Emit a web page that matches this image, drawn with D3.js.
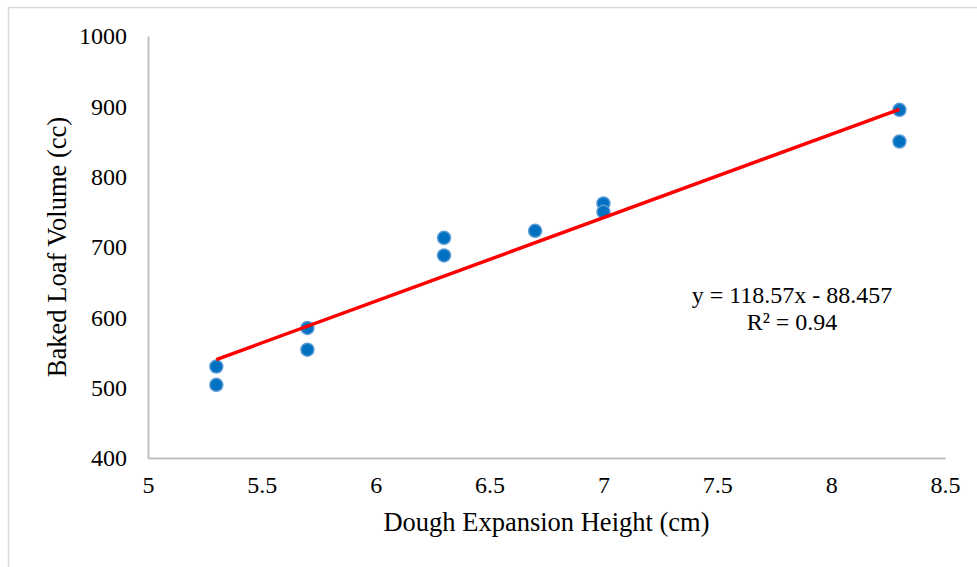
<!DOCTYPE html>
<html>
<head>
<meta charset="utf-8">
<script src="https://cdn.jsdelivr.net/npm/d3@7"></script>
<style>
  body { margin: 0; background: #fff; }
  svg { font-family: "Liberation Serif", "Times New Roman", serif; }
</style>
</head>
<body>
<div id="chart"></div>
<script>
const width = 977
const height = 567

// data
const heights = [5.3, 5.3, 5.7, 5.7, 6.3, 6.3, 6.7, 7.0, 7.0, 8.3, 8.3]
const volumes = [530, 504, 585, 554, 713, 688, 723, 762, 750, 895, 850]
const xTicks = [5, 5.5, 6, 6.5, 7, 7.5, 8, 8.5]
const yTicks = [400, 500, 600, 700, 800, 900, 1000]
const slope = 118.57
const intercept = -88.457
const equationLines = ["y = 118.57x - 88.457", "R² = 0.94"]

const plotLeft = 148, plotRight = 945, plotTop = 36, plotBottom = 458

const svg = d3.select("#chart")
    .append("svg")
    .attr("width", width)
    .attr("height", height)

// outer chart border
svg.append("rect")
    .attr("x", 8.5)
    .attr("y", 7.5)
    .attr("width", 1000)
    .attr("height", 600)
    .attr("fill", "none")
    .attr("stroke", "#d9d9d9")
    .attr("stroke-width", 1.5)

const x = d3.scaleLinear().domain([5, 8.5]).range([plotLeft, plotRight])
const y = d3.scaleLinear().domain([400, 1000]).range([plotBottom, plotTop])

/* axes */
const xAxis = svg.append("g")
    .attr("transform", `translate(0,${plotBottom})`)
    .call(d3.axisBottom(x).tickValues(xTicks).tickSize(0).tickPadding(18).tickFormat(d3.format("")))
xAxis.select(".domain").attr("stroke", "#bfbfbf").attr("stroke-width", 2)
xAxis.selectAll("text")
    .attr("font-size", 24)
    .attr("fill", "black")
    .attr("font-family", "Liberation Serif")

const yAxis = svg.append("g")
    .attr("transform", `translate(${plotLeft},0)`)
    .call(d3.axisLeft(y).tickValues(yTicks).tickSize(0).tickPadding(21).tickFormat(d3.format("")))
yAxis.select(".domain").attr("stroke", "#bfbfbf").attr("stroke-width", 2)
yAxis.selectAll("text")
    .attr("font-size", 24)
    .attr("fill", "black")
    .attr("font-family", "Liberation Serif")

/* axis titles */
svg.append("text")
    .attr("x", (plotLeft + plotRight) / 2)
    .attr("y", 531)
    .attr("text-anchor", "middle")
    .attr("font-size", 26.5)
    .attr("fill", "black")
    .text("Dough Expansion Height (cm)")

svg.append("text")
    .attr("transform", `translate(66,${(plotTop + plotBottom) / 2}) rotate(-90)`)
    .attr("text-anchor", "middle")
    .attr("font-size", 26.5)
    .attr("fill", "black")
    .text("Baked Loaf Volume (cc)")

/* points */
const pts = heights.map((h, i) => ({h: h, v: volumes[i]}))
svg.selectAll(".pt")
    .data(pts)
    .enter()
    .append("circle")
    .attr("class", "pt")
    .attr("cx", d => x(d.h))
    .attr("cy", d => y(d.v))
    .attr("r", 6.5)
    .attr("fill", "#0070C0")
    .attr("stroke", "#5B9BD5")
    .attr("stroke-width", 1.5)

/* trend line */
const xMin = d3.min(heights), xMax = d3.max(heights)
svg.append("line")
    .attr("x1", x(xMin))
    .attr("y1", y(slope * xMin + intercept))
    .attr("x2", x(xMax))
    .attr("y2", y(slope * xMax + intercept))
    .attr("stroke", "#FF0000")
    .attr("stroke-width", 3.5)

/* equation */
svg.selectAll(".eq")
    .data(equationLines)
    .enter()
    .append("text")
    .attr("class", "eq")
    .attr("x", 792)
    .attr("y", (_, i) => 303 + i * 27)
    .attr("text-anchor", "middle")
    .attr("font-size", 24)
    .attr("fill", "black")
    .text(d => d)
</script>
</body>
</html>
